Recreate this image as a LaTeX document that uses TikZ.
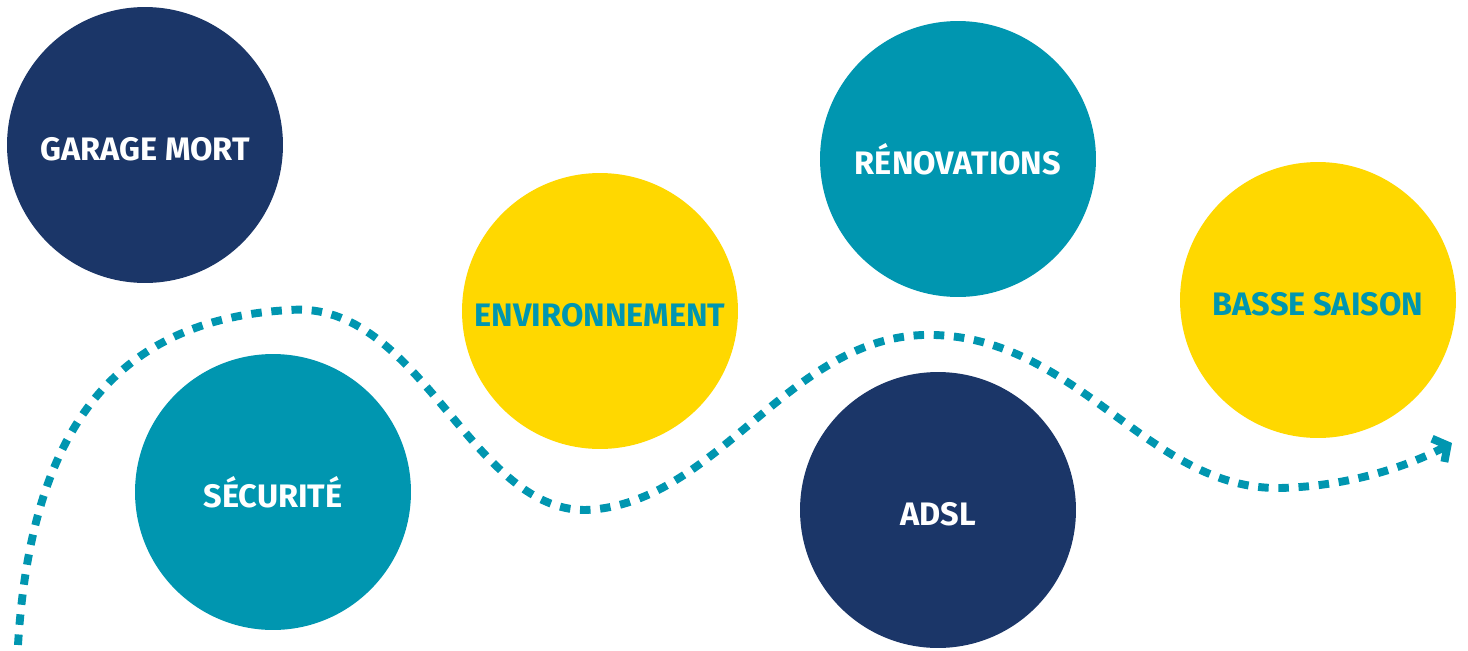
\documentclass[tikz,border=0pt]{standalone}
\usepackage{fontspec}
\setmainfont{Fira Sans}
\usetikzlibrary{arrows.meta}
\begin{document}
\begin{tikzpicture}[
        x=0.02cm, y=-0.02cm,
    ]

    \tikzstyle{bubble} = [circle, minimum size=5.52cm, inner sep=0pt,
                          text height=18pt, text depth=0pt, text centered,
                          font=\fontsize{18.5}{21}\selectfont\bfseries];

    \definecolor{navyblue}{RGB}{27,54,104}
    \definecolor{tealblue}{RGB}{0,150,176}
    \definecolor{sunyellow}{RGB}{255,216,0}

    \useasboundingbox (0,0) rectangle (1468,650);

    % Nodes
    \node[bubble, fill=navyblue, text=white] (garage) at (145,145) {GARAGE MORT};
    \node[bubble, fill=tealblue, text=white] (securite) at (273,492) {SÉCURITÉ};
    \node[bubble, fill=sunyellow, text=tealblue] (environ) at (600,311) {ENVIRONNEMENT};
    \node[bubble, fill=tealblue, text=white] (renov) at (958,159) {RÉNOVATIONS};
    \node[bubble, fill=navyblue, text=white] (adsl) at (938,510) {ADSL};
    \node[bubble, fill=sunyellow, text=tealblue] (basse) at (1318,300) {BASSE SAISON};

    % Path
    \coordinate (start) at (18,645);
    \coordinate (top1) at (290,310);
    \coordinate (low1) at (585,510);
    \coordinate (top2) at (935,335);
    \coordinate (low2) at (1280,488);
    \coordinate (end) at (1452,443);

    \draw[tealblue, line width=4.5pt, dash pattern=on 6pt off 5.5pt, -{Straight Barb[length=6pt, width=15pt]}]
        (start) .. controls (30,450) and (100,320) .. (top1)
        .. controls (420,300) and (470,510) .. (low1)
        .. controls (720,505) and (790,330) .. (top2)
        .. controls (1080,340) and (1150,490) .. (low2)
        .. controls (1360,486) and (1420,460) .. (end);

\end{tikzpicture}
\end{document}
